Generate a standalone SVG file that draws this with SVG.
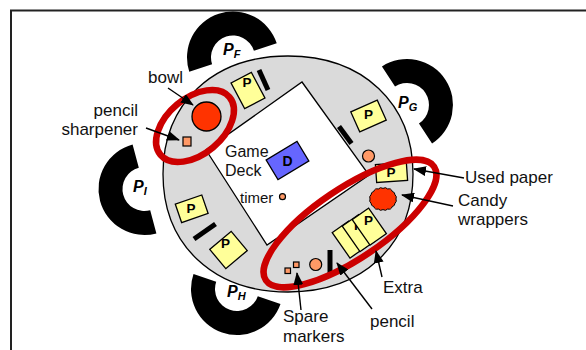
<svg xmlns="http://www.w3.org/2000/svg" width="586" height="350" viewBox="0 0 586 350">
<defs>
<style>
.lbl{font-family:"Liberation Sans",Arial,sans-serif;font-size:17px;fill:#111}
.in{font-family:"Liberation Sans",Arial,sans-serif;font-size:16px;fill:#111}
.pl{font-family:"Liberation Sans",Arial,sans-serif;font-size:16px;font-weight:bold;font-style:italic;fill:#000}
.pl tspan{font-size:11px}
.card{fill:#ffff99;stroke:#000;stroke-width:1.3}
.ct{font-family:"Liberation Sans",Arial,sans-serif;font-size:13.5px;font-weight:bold;fill:#000;text-anchor:middle}
.orange{fill:#ff9966;stroke:#000;stroke-width:1.2}
.pencil{stroke:#000;stroke-width:5;fill:none}
.ring{fill:#000}
.redring{fill:none;stroke:#cc0000;stroke-width:6.5}
.arrow{stroke:#000;stroke-width:1.4;fill:none;marker-end:url(#ah)}
</style>
<marker id="ah" markerWidth="13" markerHeight="10" refX="12" refY="5" orient="auto" markerUnits="userSpaceOnUse">
<path d="M0,0 L13,5 L0,10 z" fill="#000"/>
</marker>
<path id="halfring" d="M-46,0 A46,46 0 0 1 46,0 L22,0 A22,22 0 0 0 -22,0 Z"/>
</defs>
<rect width="586" height="350" fill="#fff"/>
<path d="M11,352 V10.5 H590" fill="none" stroke="#222" stroke-width="2"/>

<g id="player-F"><use href="#halfring" class="ring" transform="translate(233,57.5) rotate(-18)"/><text class="pl" x="223" y="55">P<tspan dy="3">F</tspan></text></g>
<g id="player-G"><use href="#halfring" class="ring" transform="translate(407,105) rotate(57)"/><text class="pl" x="398" y="108">P<tspan dy="3">G</tspan></text></g>
<g id="player-I"><use href="#halfring" class="ring" transform="translate(144.5,189) rotate(255)"/><text class="pl" x="133" y="192">P<tspan dy="3">I</tspan></text></g>
<g id="player-H"><use href="#halfring" class="ring" transform="translate(237,289) rotate(199)"/><text class="pl" x="227" y="297">P<tspan dy="3">H</tspan></text></g>

<g id="table">
<path d="M413,174 C413,244.8 363,292 288,292 C213,292 163,244.8 163,174 C163,103.2 213,56 288,56 C363,56 413,103.2 413,174 Z" fill="#dadada" stroke="#000" stroke-width="1.3"/>
<polygon points="302,82 369,175 267,245 206,150" fill="#fff" stroke="#000" stroke-width="1.3"/>
</g>

<g id="game-deck">
<rect x="-18" y="-11.5" width="36" height="23" fill="#6666ff" stroke="#000" stroke-width="1.3" transform="translate(287.5,160.5) rotate(-31)"/>
<text class="ct" x="287.5" y="165.5" style="font-size:14px">D</text>
<text class="in" x="225" y="157">Game</text>
<text class="in" x="225" y="176">Deck</text>
</g>
<g id="timer"><circle class="orange" cx="282.5" cy="196.7" r="3"/><text class="in" x="240" y="203" style="font-size:15px">timer</text></g>

<g id="cards">
<g transform="translate(248,90.5) rotate(-28)"><rect class="card" x="-11.5" y="-14.5" width="23" height="29"/></g><text class="ct" x="247" y="87">P</text>
<g transform="translate(368.5,116) rotate(-24)"><rect class="card" x="-14.5" y="-11" width="29" height="22"/></g><text class="ct" x="368.5" y="119">P</text>
<g transform="translate(391.5,172.5) rotate(-4)"><rect class="card" x="-15.5" y="-9" width="31" height="18"/></g><text class="ct" x="391" y="176.5">P</text>
<g transform="translate(191.7,208.8) rotate(-19)"><rect class="card" x="-14" y="-9.75" width="28" height="19.5"/></g><text class="ct" x="191" y="213">P</text>
<g transform="translate(228.5,250) rotate(-40)"><rect class="card" x="-14" y="-12.5" width="28" height="25"/></g><text class="ct" x="225.5" y="247.5">P</text>
</g>

<g id="extra-cards">
<g transform="translate(349.3,239.6) rotate(-35)"><rect class="card" x="-10" y="-15.5" width="20" height="31"/></g>
<g transform="translate(359.3,233.1) rotate(-35)"><rect class="card" x="-10" y="-15.5" width="20" height="31"/></g><text class="ct" x="358.5" y="230">P</text>
<g transform="translate(369.3,226.6) rotate(-35)"><rect class="card" x="-10" y="-15.5" width="20" height="31"/></g><text class="ct" x="368.5" y="225">P</text>
</g>

<g id="pencils">
<line class="pencil" x1="259" y1="70" x2="268" y2="90"/>
<line class="pencil" x1="339" y1="126.5" x2="351.5" y2="143.5"/>
<line class="pencil" x1="194" y1="239" x2="215.5" y2="224"/>
<line class="pencil" x1="330" y1="250" x2="330" y2="273"/>
</g>

<g id="markers">
<circle class="orange" cx="368.5" cy="156" r="6"/>
<circle class="orange" cx="315.7" cy="264.5" r="6"/>
<rect class="orange" x="285" y="268" width="5.5" height="5.5"/>
<rect class="orange" x="293.5" y="262" width="5.5" height="5.5"/>
</g>

<g id="bowl"><circle cx="206.5" cy="116.5" r="14.5" fill="#ff3300" stroke="#000" stroke-width="1.3"/></g>
<g id="sharpener"><rect class="orange" x="183" y="137" width="8" height="9"/></g>
<g id="candy"><path d="M396,199 A3.6,3.6 0 0 1 395,203.2 A3.6,3.6 0 0 1 392.2,206.6 A3.6,3.6 0 0 1 387.7,209 A3.6,3.6 0 0 1 383,209.6 A3.6,3.6 0 0 1 378.3,209 A3.6,3.6 0 0 1 373.8,206.6 A3.6,3.6 0 0 1 371,203.2 A3.6,3.6 0 0 1 370,199 A3.6,3.6 0 0 1 371,194.8 A3.6,3.6 0 0 1 373.8,191.4 A3.6,3.6 0 0 1 378.3,189 A3.6,3.6 0 0 1 383,188.4 A3.6,3.6 0 0 1 387.7,189 A3.6,3.6 0 0 1 392.2,191.4 A3.6,3.6 0 0 1 395,194.8 A3.6,3.6 0 0 1 396,199 Z" fill="#ff3300" stroke="#000" stroke-width="1"/></g>

<g id="highlights">
<ellipse class="redring" cx="195" cy="126" rx="45" ry="28" transform="rotate(-40 195 126)"/>
<ellipse class="redring" cx="350" cy="223.5" rx="101.5" ry="35" transform="rotate(-34 350 223.5)"/>
</g>

<g id="connectors">
<line class="arrow" x1="168" y1="88" x2="193" y2="105"/>
<line class="arrow" x1="146" y1="128" x2="179" y2="140"/>
<line class="arrow" x1="464" y1="178" x2="414" y2="169"/>
<line class="arrow" x1="453" y1="206" x2="402" y2="195"/>
<line class="arrow" x1="382" y1="277" x2="376" y2="251"/>
<line class="arrow" x1="372" y1="309" x2="337" y2="263"/>
<line class="arrow" x1="301" y1="310" x2="297" y2="273"/>
</g>

<g id="labels">
<text class="lbl" x="183" y="83" text-anchor="end">bowl</text>
<text class="lbl" x="138" y="115.5" text-anchor="end">pencil</text>
<text class="lbl" x="138" y="135" text-anchor="end">sharpener</text>
<text class="lbl" x="465" y="183">Used paper</text>
<text class="lbl" x="458" y="206">Candy</text>
<text class="lbl" x="458" y="225">wrappers</text>
<text class="lbl" x="383" y="293">Extra</text>
<text class="lbl" x="370" y="327">pencil</text>
<text class="lbl" x="283" y="322">Spare</text>
<text class="lbl" x="283" y="342">markers</text>
</g>
</svg>
